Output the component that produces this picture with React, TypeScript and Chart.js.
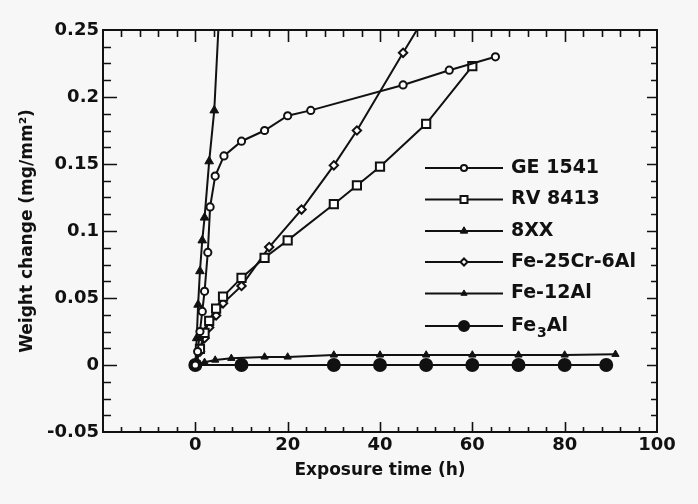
import React, { useEffect, useRef } from 'react';
import { Chart, registerables } from 'chart.js';
Chart.register(...registerables);

// ---- data ----
const seriesNames = ['GE 1541', 'RV 8413', '8XX', 'Fe-25Cr-6Al', 'Fe-12Al', 'Fe3Al'];

const geTime = [0, 0.5, 1, 1.5, 2, 2.7, 3.2, 4.3, 6.2, 10, 15, 20, 25, 45, 55, 65];
const geWeight = [0, 0.01, 0.025, 0.04, 0.055, 0.084, 0.118, 0.141, 0.156, 0.167, 0.175, 0.186, 0.19, 0.209, 0.22, 0.23];

const rvTime = [0, 1, 2, 3, 4.5, 6, 10, 15, 20, 30, 35, 40, 50, 60];
const rvWeight = [0, 0.012, 0.024, 0.033, 0.042, 0.051, 0.065, 0.08, 0.093, 0.12, 0.134, 0.148, 0.18, 0.223];

const xxTime = [0, 0.3, 0.6, 1, 1.5, 2, 3, 4.1, 5.5];
const xxWeight = [0, 0.02, 0.045, 0.07, 0.093, 0.11, 0.152, 0.19, 0.285];

const feCrTime = [0, 1, 2, 3, 4.5, 6, 10, 16, 23, 30, 35, 45, 55];
const feCrWeight = [0, 0.01, 0.02, 0.028, 0.037, 0.046, 0.059, 0.088, 0.116, 0.149, 0.175, 0.233, 0.29];

const fe12Time = [0, 2, 4.3, 7.8, 15, 20, 30, 40, 50, 60, 70, 80, 91];
const fe12Weight = [0, 0.002, 0.0037, 0.005, 0.006, 0.006, 0.0075, 0.0075, 0.0075, 0.0075, 0.0075, 0.0075, 0.008];

const fe3Time = [0, 10, 30, 40, 50, 60, 70, 80, 89];
const fe3Weight = [0, 0, 0, 0, 0, 0, 0, 0, 0];

const xTickValues = [0, 20, 40, 60, 80, 100];
const yTickValues = [-0.05, 0, 0.05, 0.1, 0.15, 0.2, 0.25];

const xTitle = 'Exposure time (h)';
const yTitle = 'Weight change (mg/mm²)';

// ---- styles ----
const BG = '#f7f7f7';
const INK = '#111111';
const FONT = '"DejaVu Sans", "Liberation Sans", Arial, sans-serif';

const toPts = (t: number[], w: number[]) => t.map((x, i) => ({ x, y: w[i] }));

const seriesStyles = [
  { pointStyle: 'circle', pointRadius: 3.6, pointBorderWidth: 2, pointBackgroundColor: '#ffffff' },
  { pointStyle: 'rect', pointRadius: 5.8, pointBorderWidth: 2, pointBackgroundColor: '#ffffff' },
  { pointStyle: 'triangle', pointRadius: 5, pointBorderWidth: 1, pointBackgroundColor: INK },
  { pointStyle: 'rectRot', pointRadius: 4.2, pointBorderWidth: 2, pointBackgroundColor: '#ffffff' },
  { pointStyle: 'triangle', pointRadius: 4.2, pointBorderWidth: 1, pointBackgroundColor: INK },
  { pointStyle: 'circle', pointRadius: 6, pointBorderWidth: 2, pointBackgroundColor: INK },
];

const seriesData = [
  toPts(geTime, geWeight),
  toPts(rvTime, rvWeight),
  toPts(xxTime, xxWeight),
  toPts(feCrTime, feCrWeight),
  toPts(fe12Time, fe12Weight),
  toPts(fe3Time, fe3Weight),
];

function drawMarker(ctx: CanvasRenderingContext2D, style: string, r: number, x: number, y: number, fill: string, bw: number) {
  ctx.save();
  ctx.lineWidth = bw;
  ctx.strokeStyle = INK;
  ctx.fillStyle = fill;
  ctx.beginPath();
  if (style === 'circle') {
    ctx.arc(x, y, r, 0, Math.PI * 2);
  } else if (style === 'rect') {
    const s = r * Math.SQRT1_2;
    ctx.rect(x - s, y - s, 2 * s, 2 * s);
  } else if (style === 'rectRot') {
    ctx.moveTo(x, y - r);
    ctx.lineTo(x + r, y);
    ctx.lineTo(x, y + r);
    ctx.lineTo(x - r, y);
    ctx.closePath();
  } else if (style === 'triangle') {
    const h = r * 1.5;
    ctx.moveTo(x, y - r);
    ctx.lineTo(x + h / Math.sqrt(3), y + r / 2);
    ctx.lineTo(x - h / Math.sqrt(3), y + r / 2);
    ctx.closePath();
  }
  ctx.fill();
  ctx.stroke();
  ctx.restore();
}

const framePlugin = {
  id: 'frameTicks',
  beforeDraw(chart: any) {
    const ctx = chart.ctx;
    ctx.save();
    ctx.fillStyle = BG;
    ctx.fillRect(0, 0, chart.width, chart.height);
    ctx.restore();
  },
  afterDatasetsDraw(chart: any) {
    const ctx: CanvasRenderingContext2D = chart.ctx;
    const { left, right, top, bottom } = chart.chartArea;
    const xs = chart.scales.x;
    const ys = chart.scales.y;
    ctx.save();
    ctx.strokeStyle = INK;
    ctx.lineWidth = 2;
    ctx.strokeRect(left, top, right - left, bottom - top);
    ctx.lineWidth = 1.6;
    ctx.beginPath();
    // x ticks every 4 units, major every 20
    for (let v = -16; v < 100; v += 4) {
      const px = Math.round(xs.getPixelForValue(v)) + 0.5;
      const major = v % 20 === 0;
      ctx.moveTo(px, bottom);
      ctx.lineTo(px, bottom - (major ? 10 : 5));
      ctx.moveTo(px, top);
      ctx.lineTo(px, top + (major ? 12 : 7));
    }
    // y ticks every 0.0125, major every 0.05
    for (let k = 1; k < 24; k++) {
      const v = -0.05 + k * 0.0125;
      const py = Math.round(ys.getPixelForValue(v)) + 0.5;
      const major = k % 4 === 0;
      ctx.moveTo(left, py);
      ctx.lineTo(left + (major ? 14 : 8), py);
      ctx.moveTo(right, py);
      ctx.lineTo(right - (major ? 10 : 6), py);
    }
    ctx.stroke();
    ctx.restore();
  },
  afterDraw(chart: any) {
    const ctx: CanvasRenderingContext2D = chart.ctx;
    const x0 = 425;
    const x1 = 503;
    const xm = 464;
    const xt = 511;
    const rowY = [168, 199.5, 231, 262, 293.5, 326];
    ctx.save();
    ctx.textBaseline = 'middle';
    ctx.textAlign = 'left';
    chart.data.datasets.forEach((ds: any, i: number) => {
      const y = rowY[i];
      ctx.strokeStyle = INK;
      ctx.lineWidth = 1.8;
      ctx.beginPath();
      ctx.moveTo(x0, y);
      ctx.lineTo(x1, y);
      ctx.stroke();
      drawMarker(ctx, ds.pointStyle, ds.pointRadius * 0.85, xm, y, ds.pointBackgroundColor, ds.pointBorderWidth);
      ctx.fillStyle = INK;
      ctx.font = `bold 19px ${FONT}`;
      const name: string = ds.label;
      if (name === 'Fe3Al') {
        ctx.fillText('Fe', xt, y);
        let w = ctx.measureText('Fe').width + 1;
        ctx.font = `bold 14px ${FONT}`;
        ctx.fillText('3', xt + w, y + 7);
        w += ctx.measureText('3').width;
        ctx.font = `bold 19px ${FONT}`;
        ctx.fillText('Al', xt + w, y);
      } else {
        ctx.fillText(name, xt, y);
      }
    });
    ctx.restore();
  },
};

export default function App() {
  const canvasRef = useRef<HTMLCanvasElement | null>(null);

  useEffect(() => {
    if (!canvasRef.current) return;
    const tickFont = { family: FONT, weight: 'bold' as const, size: 18 };
    const titleFont = { family: FONT, weight: 'bold' as const, size: 17 };
    const chart = new Chart(canvasRef.current, {
      type: 'line',
      data: {
        datasets: seriesNames.map((name, i) => ({
          label: name,
          data: seriesData[i],
          borderColor: INK,
          borderWidth: 2,
          pointBorderColor: INK,
          tension: 0,
          fill: false,
          ...seriesStyles[i],
        })) as any,
      },
      options: {
        animation: false,
        responsive: true,
        maintainAspectRatio: false,
        layout: { padding: { top: 30, right: 41, left: 0, bottom: 0 } },
        plugins: { legend: { display: false }, tooltip: { enabled: false } },
        scales: {
          x: {
            type: 'linear',
            min: -20,
            max: 100,
            afterBuildTicks: (s: any) => {
              s.ticks = xTickValues.map((v) => ({ value: v }));
            },
            afterFit: (s: any) => {
              s.height = 72;
            },
            grid: { display: false, drawTicks: false },
            border: { display: false },
            ticks: {
              color: INK,
              font: tickFont,
              padding: 3,
              maxRotation: 0,
              autoSkip: false,
              callback: (v: any) => String(v),
            },
            title: {
              display: true,
              text: xTitle,
              color: INK,
              font: titleFont,
              padding: { top: 0, bottom: 23 },
            },
          },
          y: {
            type: 'linear',
            min: -0.05,
            max: 0.25,
            afterBuildTicks: (s: any) => {
              s.ticks = yTickValues.map((v) => ({ value: v }));
            },
            afterFit: (s: any) => {
              s.width = 103;
            },
            grid: { display: false, drawTicks: false },
            border: { display: false },
            ticks: {
              color: INK,
              font: tickFont,
              padding: 4,
              autoSkip: false,
              callback: (v: any) => String(parseFloat(Number(v).toFixed(3))),
            },
            title: {
              display: true,
              text: yTitle,
              color: INK,
              font: titleFont,
              padding: { top: 17, bottom: 0 },
            },
          },
        },
      },
      plugins: [framePlugin],
    });
    return () => chart.destroy();
  }, []);

  return (
    <div style={{ position: 'fixed', left: 0, top: 0, width: 698, height: 504, background: BG }}>
      <canvas ref={canvasRef} />
    </div>
  );
}
